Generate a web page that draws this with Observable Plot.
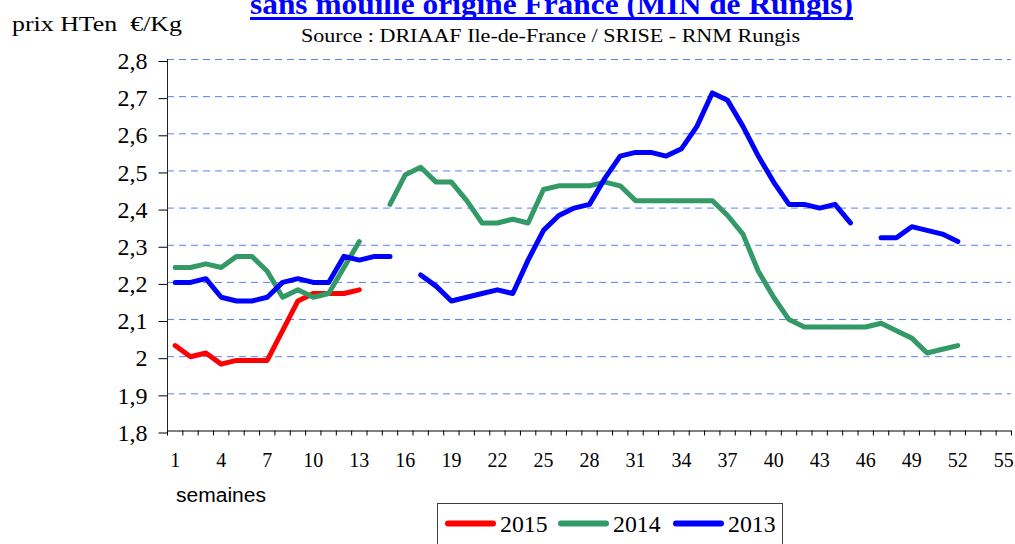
<!DOCTYPE html>
<html>
<head>
<meta charset="utf-8">
<script src="https://cdn.jsdelivr.net/npm/d3@7"></script>
<script src="https://cdn.jsdelivr.net/npm/@observablehq/plot@0.6"></script>
<style>
  html, body { margin: 0; padding: 0; background: #fff; }
  #wrap { position: relative; width: 1015px; height: 544px; overflow: hidden; background: #fff; }
  #wrap svg { position: absolute; left: 0; top: 0; }
</style>
</head>
<body>
<div id="wrap"></div>
<script>
// ---- data ----
const weeks = d3.range(1, 53);
const years = ["2015", "2014", "2013"];
const colors = ["#ff0000", "#339966", "#0000ff"];
const values2015 = [2.03, 2.00, 2.01, 1.98, 1.99, 1.99, 1.99, 2.07, 2.15, 2.17, 2.17, 2.17, 2.18];
const values2014 = [2.24, 2.24, 2.25, 2.24, 2.27, 2.27, 2.23, 2.16, 2.18, 2.16, 2.17, 2.24, 2.31, null,
  2.41, 2.49, 2.51, 2.47, 2.47, 2.42, 2.36, 2.36, 2.37, 2.36, 2.45, 2.46, 2.46, 2.46, 2.47, 2.46,
  2.42, 2.42, 2.42, 2.42, 2.42, 2.42, 2.38, 2.33, 2.23, 2.16, 2.10, 2.08, 2.08, 2.08, 2.08, 2.08,
  2.09, 2.07, 2.05, 2.01, 2.02, 2.03];
const values2013 = [2.20, 2.20, 2.21, 2.16, 2.15, 2.15, 2.16, 2.20, 2.21, 2.20, 2.20, 2.27, 2.26, 2.27, 2.27, null,
  2.22, 2.19, 2.15, 2.16, 2.17, 2.18, 2.17, 2.26, 2.34, 2.38, 2.40, 2.41, 2.48, 2.54, 2.55, 2.55,
  2.54, 2.56, 2.62, 2.71, 2.69, 2.62, 2.54, 2.47, 2.41, 2.41, 2.40, 2.41, 2.36, null,
  2.32, 2.32, 2.35, 2.34, 2.33, 2.31];
const yTicks = [1.8, 1.9, 2, 2.1, 2.2, 2.3, 2.4, 2.5, 2.6, 2.7, 2.8];
const xTickLabels = [1, 4, 7, 10, 13, 16, 19, 22, 25, 28, 31, 34, 37, 40, 43, 46, 49, 52, 55];
const xCategoryEdges = d3.range(0, 56).map(i => i + 0.5);

const titleText = "sans mouille origine France (MIN de Rungis)";
const sourceText = "Source : DRIAAF Ile-de-France / SRISE - RNM Rungis";
const unitText = "prix HTen  €/Kg";
const xAxisText = "semaines";

const series = [values2015, values2014, values2013];
const rows = series.map((vals, i) => vals.map((v, j) => ({week: weeks[j], value: v, year: years[i]})));

const gridColor = "#5a80f2";
const serif = "'Liberation Serif', 'Times New Roman', serif";

const chart = Plot.plot({
  width: 1015,
  height: 544,
  marginLeft: 167,
  marginRight: 4,
  marginTop: 59,
  marginBottom: 113.5,
  x: {domain: [0.5, 55.5]},
  y: {domain: [1.8, 2.8]},
  style: {fontFamily: serif, background: "transparent", color: "#000"},
  marks: [
    Plot.ruleY(yTicks.filter(d => d > 1.8), {stroke: gridColor, strokeWidth: 1, strokeDasharray: "7,5"}),
    Plot.axisY({ticks: yTicks, tickSize: 8.5, tickPadding: 11.5, fontSize: 24, dy: 2,
      tickFormat: d => String(d).replace(".", ","), label: null}),
    Plot.axisX({ticks: xCategoryEdges, tickSize: 5, tickFormat: () => "", label: null}),
    Plot.axisX({ticks: xTickLabels, tickSize: 0, tickPadding: 22, fontSize: 20, tickFormat: d => String(d), label: null}),
    Plot.ruleX([0.5], {y1: 1.8, y2: 2.8, stroke: "#222"}),
    Plot.ruleY([1.8], {x1: 0.5, x2: 55.5, stroke: "#000"}),
    ...rows.map((r, i) => Plot.line(r, {x: "week", y: "value", stroke: colors[i], strokeWidth: 5,
      strokeLinecap: "round", strokeLinejoin: "round"}))
  ]
});

const wrap = document.getElementById("wrap");
wrap.appendChild(chart);

// ---- overlay texts & legend ----
const ov = d3.select(wrap).append("svg")
  .attr("width", 1015).attr("height", 544)
  .style("pointer-events", "none");

ov.append("text").text(titleText)
  .attr("x", 250).attr("y", 14)
  .attr("textLength", 603).attr("lengthAdjust", "spacingAndGlyphs")
  .style("font-family", serif).style("font-weight", "bold").style("font-size", "29px")
  .attr("fill", "#0000ff");
ov.append("rect").attr("x", 250).attr("y", 17).attr("width", 603).attr("height", 3).attr("fill", "#0000ff");

ov.append("text").text(sourceText)
  .attr("x", 301).attr("y", 42)
  .attr("textLength", 499).attr("lengthAdjust", "spacingAndGlyphs")
  .style("font-family", serif).style("font-size", "18px").attr("fill", "#000");

ov.append("text").text(unitText)
  .attr("x", 12).attr("y", 31)
  .attr("textLength", 170).attr("lengthAdjust", "spacingAndGlyphs")
  .style("white-space", "pre")
  .style("font-family", serif).style("font-size", "20px").attr("fill", "#000");

ov.append("text").text(xAxisText)
  .attr("x", 176).attr("y", 501.5)
  .attr("textLength", 90).attr("lengthAdjust", "spacingAndGlyphs")
  .style("font-family", "'Liberation Sans', Arial, sans-serif").style("font-size", "20px").attr("fill", "#000");

ov.append("rect").attr("x", 437.5).attr("y", 503.5).attr("width", 345).attr("height", 60)
  .attr("fill", "none").attr("stroke", "#404040").attr("stroke-width", 1);

const legendX = [445, 558, 673];
years.forEach((yr, i) => {
  const x0 = legendX[i];
  ov.append("line").attr("x1", x0 + 3).attr("x2", x0 + 48).attr("y1", 523.5).attr("y2", 523.5)
    .attr("stroke", colors[i]).attr("stroke-width", 6).attr("stroke-linecap", "round");
  ov.append("text").text(yr).attr("x", x0 + 55).attr("y", 532)
    .attr("textLength", 47.5).attr("lengthAdjust", "spacingAndGlyphs")
    .style("font-family", serif).style("font-size", "24px").attr("fill", "#000");
});
</script>
</body>
</html>
